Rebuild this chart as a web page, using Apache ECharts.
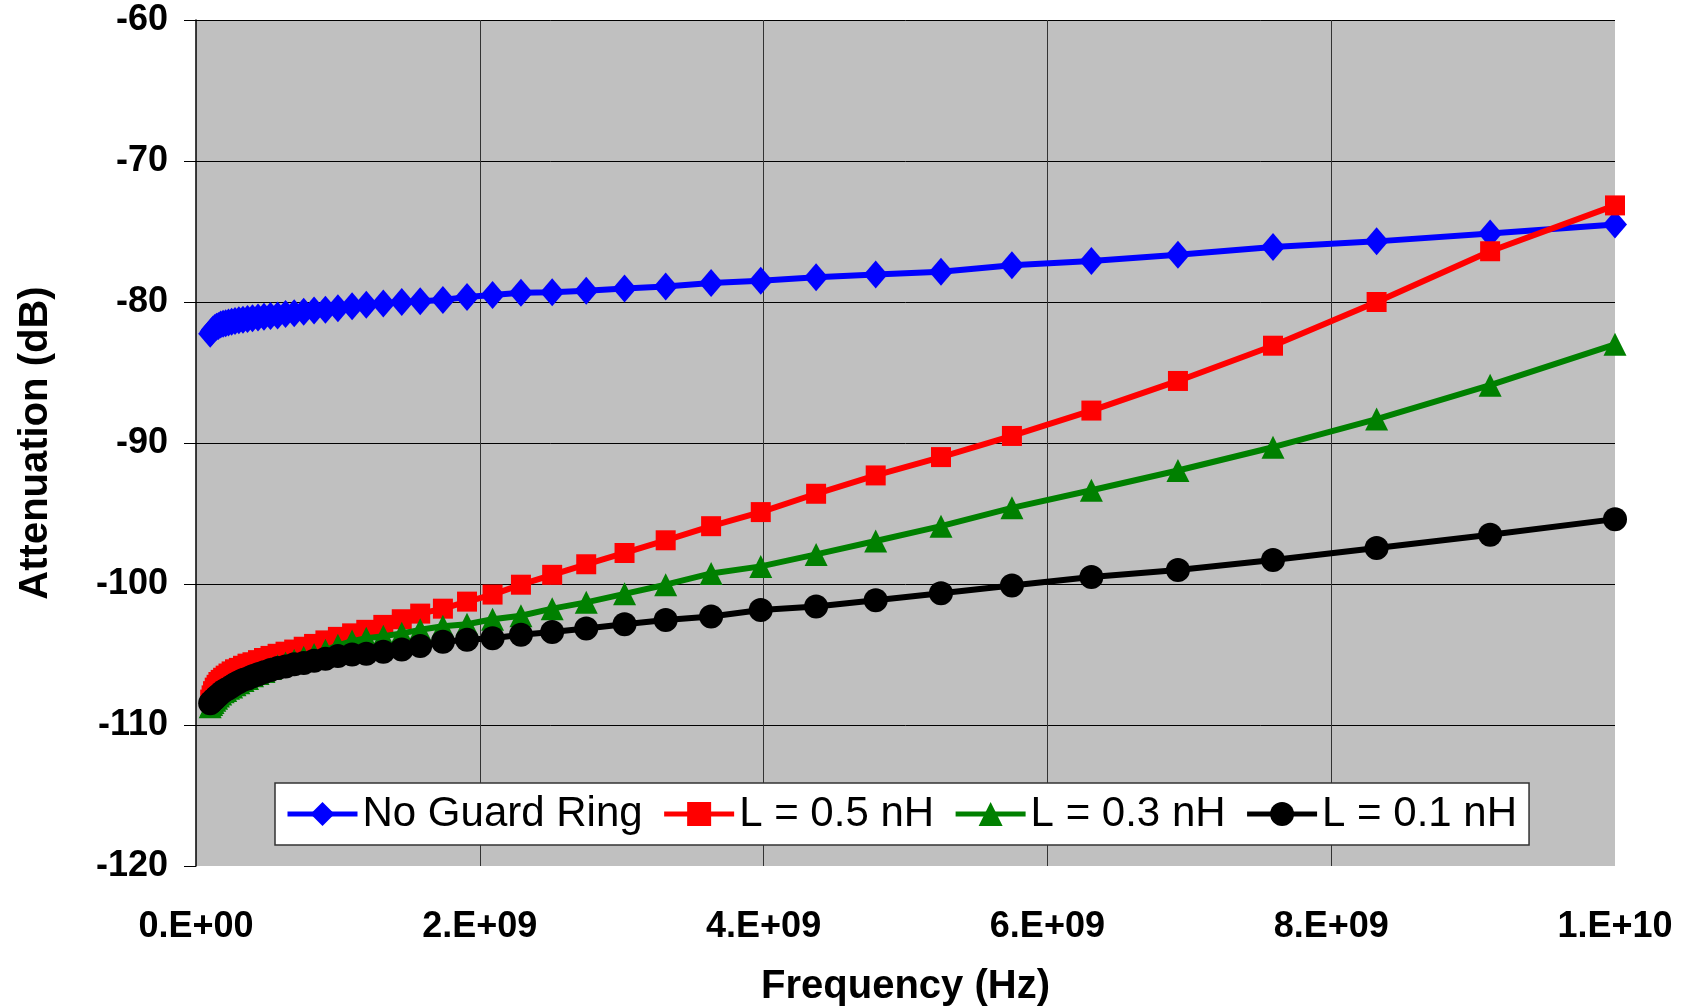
<!DOCTYPE html>
<html>
<head>
<meta charset="utf-8">
<title>Attenuation vs Frequency</title>
<script src="https://cdn.jsdelivr.net/npm/echarts@6/dist/echarts.min.js"></script>
<style>
  html, body { margin: 0; padding: 0; background: #fff; }
  #chart { width: 1691px; height: 1006px; }
</style>
</head>
<body>
<div id="chart"></div>
<script>
// frequency points (Hz), log spaced 1e8 .. 1e10
var freqs = [
  1.00e8, 1.10e8, 1.20e8, 1.32e8, 1.45e8, 1.58e8, 1.74e8, 1.91e8, 2.09e8, 2.29e8,
  2.51e8, 2.75e8, 3.02e8, 3.31e8, 3.63e8, 3.98e8, 4.37e8, 4.79e8, 5.25e8, 5.75e8,
  6.31e8, 6.92e8, 7.59e8, 8.32e8, 9.12e8, 1.00e9, 1.10e9, 1.20e9, 1.32e9, 1.45e9,
  1.58e9, 1.74e9, 1.91e9, 2.09e9, 2.29e9, 2.51e9, 2.75e9, 3.02e9, 3.31e9, 3.63e9,
  3.98e9, 4.37e9, 4.79e9, 5.25e9, 5.75e9, 6.31e9, 6.92e9, 7.59e9, 8.32e9, 9.12e9,
  1.00e10
];

var seriesNames = ['No Guard Ring', 'L = 0.5 nH', 'L = 0.3 nH', 'L = 0.1 nH'];

var noGuard = [
  -82.25, -82.1, -81.95, -81.85, -81.75, -81.7, -81.6, -81.55, -81.5, -81.45,
  -81.4, -81.35, -81.3, -81.25, -81.2, -81.15, -81.1, -81.05, -81.0, -80.95,
  -80.85, -80.8, -80.7, -80.6, -80.55, -80.45, -80.3, -80.2, -80.1, -80.0,
  -79.95, -79.85, -79.65, -79.5, -79.35, -79.3, -79.2, -79.05, -78.9, -78.65,
  -78.5, -78.25, -78.05, -77.85, -77.4, -77.1, -76.65, -76.1, -75.7, -75.15,
  -74.5
];

var l05 = [
  -108.2, -107.9, -107.6, -107.35, -107.15, -106.95, -106.8, -106.65, -106.5, -106.35,
  -106.2, -106.05, -105.95, -105.8, -105.65, -105.55, -105.4, -105.25, -105.1, -104.95,
  -104.8, -104.65, -104.45, -104.25, -104.0, -103.75, -103.5, -103.25, -102.9, -102.5,
  -102.1, -101.75, -101.25, -100.75, -100.05, -99.35, -98.6, -97.8, -96.9, -95.9,
  -94.9, -93.6, -92.3, -91.0, -89.5, -87.7, -85.6, -83.1, -80.0, -76.4,
  -73.15
];

var l03 = [
  -108.7, -108.55, -108.4, -108.25, -108.1, -107.95, -107.8, -107.65, -107.55, -107.4,
  -107.3, -107.15, -107.0, -106.85, -106.7, -106.5, -106.35, -106.2, -106.0, -105.8,
  -105.6, -105.4, -105.2, -105.0, -104.7, -104.35, -104.05, -103.85, -103.7, -103.5,
  -103.25, -103.0, -102.85, -102.5, -102.25, -101.75, -101.3, -100.7, -100.05, -99.25,
  -98.75, -97.9, -96.95, -95.9, -94.6, -93.35, -91.95, -90.3, -88.3, -85.9,
  -83.0
];

var l01 = [
  -108.45, -108.35, -108.25, -108.15, -108.0, -107.9, -107.75, -107.6, -107.5, -107.4,
  -107.25, -107.1, -106.95, -106.8, -106.7, -106.55, -106.4, -106.25, -106.1, -105.95,
  -105.85, -105.7, -105.6, -105.45, -105.3, -105.1, -105.0, -104.95, -104.8, -104.65,
  -104.4, -104.1, -103.95, -103.85, -103.6, -103.4, -103.15, -102.85, -102.55, -102.3,
  -101.85, -101.6, -101.15, -100.65, -100.1, -99.5, -99.0, -98.3, -97.45, -96.5,
  -95.4
];

var colors = ['#0000FF', '#FF0000', '#008000', '#000000'];
var symbols = ['diamond', 'rect', 'triangle', 'circle'];
var symbolSizes = [[24, 28], 20, 23, 24];
var values = [noGuard, l05, l03, l01];

function pairs(ys) {
  return freqs.map(function (f, i) { return [f, ys[i]]; });
}

// Excel-like "0.E+00" labels
function sciLabel(v) {
  if (v === 0) return '0.E+00';
  var e = Math.floor(Math.log10(v) + 1e-9);
  var m = Math.round(v / Math.pow(10, e));
  return m + '.E+' + (e < 10 ? '0' + e : e);
}

var chart = echarts.init(document.getElementById('chart'));
var fontFamily = '"Liberation Sans", Arial, sans-serif';

chart.setOption({
  animation: false,
  backgroundColor: '#ffffff',
  grid: {
    left: 196,
    top: 20,
    right: 76,
    bottom: 140,
    outerBoundsMode: 'none',
    show: true,
    backgroundColor: '#C0C0C0',
    borderWidth: 0
  },
  legend: {
    data: seriesNames,
    left: 275,
    top: 783,
    itemWidth: 70,
    itemHeight: 30,
    itemGap: 19,
    padding: [10, 12, 10, 10],
    backgroundColor: '#ffffff',
    borderColor: '#333333',
    borderWidth: 1.5,
    lineStyle: { width: 5 },
    textStyle: { fontFamily: fontFamily, fontSize: 42, color: '#000' }
  },
  xAxis: {
    type: 'value',
    min: 0,
    max: 1e10,
    interval: 2e9,
    name: 'Frequency (Hz)',
    nameLocation: 'middle',
    nameGap: 101,
    nameTextStyle: { fontFamily: fontFamily, fontSize: 40, fontWeight: 'bold', color: '#000' },
    axisLine: { show: false },
    axisTick: { show: false },
    axisLabel: {
      margin: 43,
      formatter: sciLabel,
      fontFamily: fontFamily, fontSize: 36, fontWeight: 'bold', color: '#000'
    },
    splitLine: {
      show: true,
      showMinLine: false,
      showMaxLine: false,
      lineStyle: { color: '#333333', width: 1 }
    }
  },
  yAxis: {
    type: 'value',
    min: -120,
    max: -60,
    interval: 10,
    name: 'Attenuation (dB)',
    nameLocation: 'middle',
    nameGap: 140,
    nameRotate: 90,
    nameTextStyle: { fontFamily: fontFamily, fontSize: 40, fontWeight: 'bold', color: '#000' },
    axisLine: { show: true, lineStyle: { color: '#000', width: 1.5 } },
    axisTick: { show: true, length: 12, lineStyle: { color: '#000', width: 1 } },
    axisLabel: {
      margin: 28,
      fontFamily: fontFamily, fontSize: 36, fontWeight: 'bold', color: '#000'
    },
    splitLine: {
      show: true,
      showMinLine: false,
      lineStyle: { color: '#000000', width: 1 }
    }
  },
  series: seriesNames.map(function (name, k) {
    return {
      name: name,
      type: 'line',
      data: pairs(values[k]),
      symbol: symbols[k],
      symbolSize: symbolSizes[k],
      showAllSymbol: true,
      color: colors[k],
      lineStyle: { color: colors[k], width: 6 },
      itemStyle: { color: colors[k] },
      z: 2 + k
    };
  })
});
</script>
</body>
</html>
